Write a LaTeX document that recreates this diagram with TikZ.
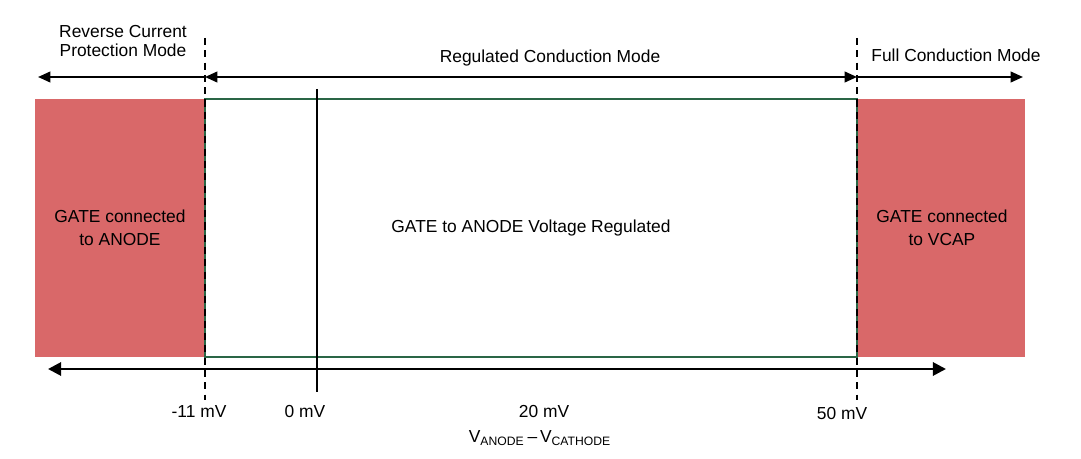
\documentclass[tikz,border=0pt]{standalone}
\usepackage{fontspec}
\setmainfont{Liberation Sans}
\usetikzlibrary{arrows.meta,positioning}

\definecolor{gatered}{RGB}{217,104,105}
\definecolor{regedge}{RGB}{42,102,70}

\tikzset{
  rangearrow/.style={line width=1.2pt,>={Triangle[length=7pt,width=6pt]}},
  axisarrow/.style={line width=1.6pt,>={Triangle[length=7.5pt,width=7.5pt]}},
  border/.style={black,line width=0.6pt,dash pattern=on 4pt off 3pt},
  modelabel/.style={font=\fontsize{9.9}{11.3}\selectfont,inner sep=0pt,align=center},
  gatelabel/.style={font=\fontsize{9.9}{13}\selectfont,inner sep=0pt,align=center},
  tick/.style={font=\fontsize{9.9}{11.3}\selectfont,inner sep=0pt},
}

\begin{document}
\begin{tikzpicture}[x=0.02cm,y=-0.02cm]
        \useasboundingbox (0,0) rectangle (1081,459);

        % mode areas
        \fill[gatered] (35,99) rectangle (205,357);
        \fill[gatered] (857,99) rectangle (1025,357);
        \draw[regedge,line width=1.3pt] (205,99) rectangle (857,357);

        % bounds of the modes
        \coordinate (lo top) at (205,38);
        \coordinate (lo bot) at (205,400);
        \coordinate (hi top) at (857,38);
        \coordinate (hi bot) at (857,400);
        \draw[border] (lo top) -- (lo bot);
        \draw[border] (hi top) -- (hi bot);

        % zero line
        \coordinate (zero top) at (317,89);
        \coordinate (zero bot) at (317,392);
        \draw[line width=1.2pt] (zero top) -- (zero bot);

        % arrows on top
        \coordinate (rev end) at (38,77);
        \coordinate (lo mid) at (205,77);
        \coordinate (hi mid) at (857,77);
        \coordinate (full end) at (1023,77);
        \draw[rangearrow,->] (lo mid) -- (rev end);
        \draw[rangearrow,<->] (lo mid) -- (hi mid);
        \draw[rangearrow,->] (hi mid) -- (full end);

        % voltage axis
        \coordinate (ax left) at (48,369);
        \coordinate (ax right) at (946,369);
        \draw[axisarrow,<->] (ax left) -- (ax right);

        \node[modelabel] (rcp) at (123,41) {Reverse Current\\Protection Mode};
        \node[modelabel] (rcm) at (550,58) {Regulated Conduction Mode};
        \node[modelabel] (fcm) at (956,55) {Full Conduction Mode};

        \node[gatelabel] (gta) at (120,228) {GATE connected\\to ANODE};
        \node[gatelabel] (reg) at (531,228) {GATE to ANODE Voltage Regulated};
        \node[gatelabel] (gtv) at (942,228) {GATE connected\\to VCAP};

        \node[tick] (m11) at (199,412) {-11 mV};
        \node[tick] (m0) at (305,412) {0 mV};
        \node[tick] (m20) at (544,412) {20 mV};
        \node[tick] (m50) at (842,414) {50 mV};
        \node[tick] (vac) at (540,438) {V\textsubscript{ANODE}\,--\,V\textsubscript{CATHODE}};
\end{tikzpicture}
\end{document}
